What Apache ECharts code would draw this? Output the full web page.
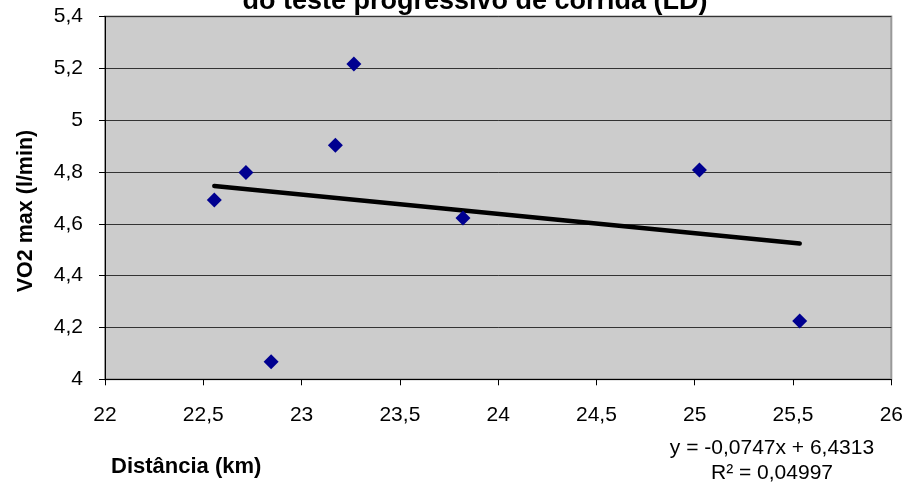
<!DOCTYPE html>
<html><head><meta charset="utf-8">
<script src="https://cdn.jsdelivr.net/npm/echarts@6/dist/echarts.min.js"></script>
<style>html,body{margin:0;padding:0;background:#fff}#c{width:906px;height:485px}</style>
</head><body><div id="c"></div>
<script>
const distancia = [22.556, 22.717, 22.845, 23.172, 23.266, 23.821, 25.024, 25.534];
const vo2max = [4.692, 4.798, 4.068, 4.903, 5.217, 4.622, 4.808, 4.225];
const trendX = [22.556, 25.534];
const trendY = [4.746, 4.524];
const titleText = 'do teste progressivo de corrida (LD)';
const xTitle = 'Distância (km)';
const yTitle = 'VO2 max (l/min)';
const eqLines = ['y = -0,0747x + 6,4313', 'R² = 0,04997'];

const fmt = v => String(Math.round(v * 10) / 10).replace('.', ',');
const font = 'Liberation Sans, Arial, sans-serif';
const chart = echarts.init(document.getElementById('c'));
chart.setOption({
  animation: false,
  backgroundColor: '#fff',
  title: {
    text: titleText, left: 470, textAlign: 'center', top: -17,
    textStyle: { fontFamily: font, fontSize: 27, fontWeight: 'bold', color: '#000' }
  },
  grid: {
    left: 105, right: 14, top: 16.5, bottom: 105.7, show: true,
    backgroundColor: '#CCCCCC', borderColor: '#999', borderWidth: 2
  },
  xAxis: {
    type: 'value', min: 22, max: 26, interval: 0.5,
    axisLine: { show: true, onZero: false, lineStyle: { color: '#000', width: 1 } },
    axisTick: { show: true, length: 6, lineStyle: { color: '#000' } },
    splitLine: { show: false },
    axisLabel: { formatter: fmt, margin: 25, fontFamily: font, fontSize: 21, color: '#000' }
  },
  yAxis: {
    type: 'value', min: 4, max: 5.4, interval: 0.2,
    axisLine: { show: true, onZero: false, lineStyle: { color: '#000', width: 1 } },
    axisTick: { show: true, length: 6, lineStyle: { color: '#000' } },
    splitLine: { show: true, lineStyle: { color: '#333', width: 1 } },
    axisLabel: { formatter: fmt, margin: 22, fontFamily: font, fontSize: 21, color: '#000' }
  },
  series: [
    {
      type: 'scatter', symbol: 'diamond', symbolSize: 15,
      itemStyle: { color: '#000090', opacity: 1 },
      data: distancia.map((x, i) => [x, vo2max[i]]), z: 3
    },
    {
      type: 'line', symbol: 'none', showSymbol: false,
      lineStyle: { color: '#000', width: 4.5, cap: 'round' },
      data: trendX.map((x, i) => [x, trendY[i]]), z: 2
    }
  ],
  graphic: [
    { type: 'text', x: 111, y: 467, style: { text: xTitle, font: 'bold 22px ' + font, fill: '#000', align: 'left', verticalAlign: 'middle' } },
    { type: 'text', x: 26.5, y: 211, rotation: Math.PI / 2, style: { text: yTitle, font: 'bold 21.5px ' + font, fill: '#000', align: 'center', verticalAlign: 'middle' } },
    { type: 'text', x: 772, y: 448, style: { text: eqLines[0], font: '21px ' + font, fill: '#000', align: 'center', verticalAlign: 'middle' } },
    { type: 'text', x: 772, y: 473, style: { text: eqLines[1], font: '21px ' + font, fill: '#000', align: 'center', verticalAlign: 'middle' } }
  ]
});
</script></body></html>
